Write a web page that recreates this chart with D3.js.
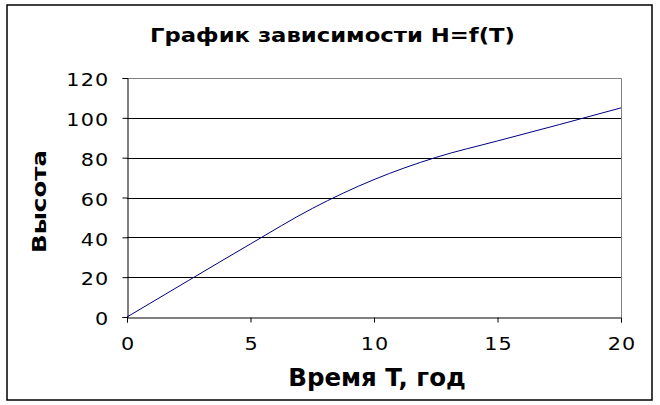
<!DOCTYPE html>
<html>
<head>
<meta charset="utf-8">
<script src="https://cdn.jsdelivr.net/npm/d3@7"></script>
<style>
  body { margin: 0; background: #fff; }
  text { font-family: "DejaVu Sans", Verdana, sans-serif; }
</style>
</head>
<body>
<div id="chart"></div>
<script>
// данные графика H = f(T)
const timeT = [0, 2.5, 5, 7.5, 10, 12.5, 15, 17.5, 20];
const heightH = [0, 18.4, 36.7, 54.5, 69, 80.1, 88.4, 96.6, 105];
const xTicks = [0, 5, 10, 15, 20];
const yTicks = [0, 20, 40, 60, 80, 100, 120];

const chartTitle = "График зависимости H=f(T)";
const xTitle = "Время T, год";
const yTitle = "Высота";

const data = timeT.map((t, i) => ({ t: t, h: heightH[i] }));

const svg = d3.select("#chart")
  .append("svg")
  .attr("width", 660)
  .attr("height", 405);

// рамка вокруг диаграммы
svg.append("rect")
  .attr("x", 7)
  .attr("y", 5)
  .attr("width", 645)
  .attr("height", 395)
  .attr("fill", "#fff")
  .attr("stroke", "#000")
  .attr("stroke-width", 1.5);

const margin = { top: 78, left: 127, right: 39, bottom: 88 };
const width = 660 - margin.left - margin.right;
const height = 405 - margin.top - margin.bottom;

const chart = svg.append("g")
  .attr("transform", `translate(${margin.left},${margin.top})`);

const xScale = d3.scaleLinear().domain([0, 20]).range([0, width]);
const yScale = d3.scaleLinear().domain([0, 120]).range([height, 0]);

// сетка
chart.append("g")
  .selectAll("line")
  .data(yTicks.filter(d => d > 0 && d < 120))
  .enter()
  .append("line")
  .attr("x1", 0)
  .attr("x2", width)
  .attr("y1", d => Math.round(yScale(d)) + 0.5)
  .attr("y2", d => Math.round(yScale(d)) + 0.5)
  .attr("stroke", "#000")
  .attr("stroke-width", 1);

// серая рамка области построения (верх и право)
chart.append("path")
  .attr("d", `M0,${Math.round(yScale(120)) + 0.5}H${Math.round(width) + 0.5}V${Math.round(height)}`)
  .attr("fill", "none")
  .attr("stroke", "#808080");

// оси
const stretch = 1.2; // цифры в оригинале растянуты по горизонтали

const xAxis = chart.append("g")
  .attr("transform", `translate(0,${Math.round(height) + 0.5})`)
  .call(d3.axisBottom(xScale).tickValues(xTicks).tickSize(5));

const yAxis = chart.append("g")
  .attr("transform", "translate(0.5,0)")
  .call(d3.axisLeft(yScale).tickValues(yTicks).tickSize(5));

[xAxis, yAxis].forEach(ax => {
  ax.select(".domain").attr("stroke", "#000");
  ax.selectAll(".tick line").attr("stroke", "#000");
  ax.selectAll("text")
    .style("font-family", "'DejaVu Sans', Verdana, sans-serif")
    .style("font-size", "17.3px")
    .style("letter-spacing", "1px")
    .attr("fill", "#000")
    .attr("dy", 0)
    .attr("transform", `scale(${stretch},1)`);
});

xAxis.selectAll("text").attr("y", 33).attr("x", 0.5);
yAxis.selectAll("text").attr("y", 7.7).attr("x", -18 / stretch);

// линия
const line = d3.line()
  .x(d => xScale(d.t))
  .y(d => yScale(d.h))
  .curve(d3.curveMonotoneX);

chart.append("path")
  .datum(data)
  .attr("d", line)
  .attr("fill", "none")
  .attr("stroke", "#000080")
  .attr("stroke-width", 1);

// заголовки
svg.append("text")
  .attr("x", 332.5)
  .attr("y", 41.7)
  .attr("text-anchor", "middle")
  .attr("textLength", 365)
  .attr("lengthAdjust", "spacingAndGlyphs")
  .style("font-size", "19.5px")
  .style("font-weight", "bold")
  .text(chartTitle);

svg.append("text")
  .attr("x", 377)
  .attr("y", 386)
  .attr("text-anchor", "middle")
  .style("font-size", "24.5px")
  .style("font-weight", "bold")
  .text(xTitle);

svg.append("text")
  .attr("transform", "translate(45.7,201.5) rotate(-90) scale(1,0.78)")
  .attr("text-anchor", "middle")
  .style("font-size", "24.5px")
  .style("font-weight", "bold")
  .text(yTitle);
</script>
</body>
</html>
